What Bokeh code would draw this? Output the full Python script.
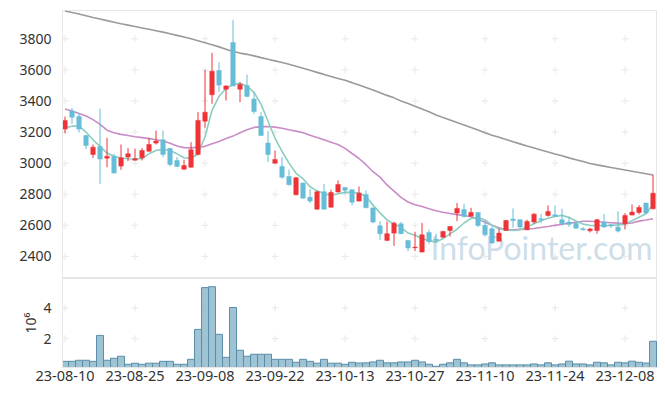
from bokeh.plotting import figure
from bokeh.models import ColumnDataSource, Range1d, FixedTicker, Label
from bokeh.layouts import column
from bokeh.embed import file_html
from bokeh.resources import INLINE

# ---------------- data ----------------
opens = [3219, 3335, 3300, 3178, 3056, 3107, 3032, 3043, 2981, 3039,
         3019, 3034, 3077, 3129, 3150, 3094, 3017, 2961, 2974, 3056,
         3270, 3440, 3596, 3476, 3776, 3476, 3500, 3412, 3300, 3129,
         3000, 2979, 2914, 2797, 2872, 2780, 2704, 2816, 2717, 2814,
         2844, 2829, 2756, 2799, 2711, 2597, 2503, 2550, 2610, 2503,
         2456, 2428, 2554, 2511, 2524, 2567, 2679, 2702, 2659, 2683,
         2599, 2578, 2498, 2567, 2640, 2636, 2571, 2621, 2642, 2664,
         2668, 2636, 2621, 2614, 2578, 2565, 2567, 2621, 2604, 2589,
         2610, 2666, 2683, 2743, 2706]
highs = [3300, 3356, 3322, 3182, 3120, 3350, 3163, 3060, 3120, 3097,
         3093, 3097, 3163, 3210, 3210, 3097, 3039, 3022, 3135, 3328,
         3600, 3710, 3650, 3500, 3922, 3521, 3570, 3457, 3328, 3206,
         3082, 3039, 2957, 2910, 2875, 2833, 2820, 2867, 2829, 2889,
         2846, 2831, 2850, 2825, 2717, 2627, 2625, 2623, 2623, 2505,
         2559, 2616, 2571, 2546, 2565, 2595, 2743, 2739, 2713, 2685,
         2631, 2593, 2580, 2636, 2709, 2638, 2636, 2679, 2674, 2728,
         2728, 2706, 2657, 2621, 2589, 2584, 2642, 2674, 2610, 2689,
         2679, 2734, 2730, 2745, 2925]
lows = [3193, 3253, 3197, 3090, 3034, 2867, 2974, 2934, 2957, 3013,
        3017, 3017, 3073, 3120, 3039, 2979, 2974, 2958, 2972, 3050,
        3227, 3382, 3459, 3403, 3495, 3392, 3425, 3317, 3176, 3007,
        2998, 2899, 2857, 2792, 2773, 2743, 2702, 2702, 2715, 2812,
        2803, 2728, 2754, 2711, 2614, 2507, 2501, 2467, 2544, 2434,
        2434, 2426, 2481, 2486, 2520, 2528, 2627, 2649, 2657, 2589,
        2528, 2481, 2496, 2565, 2584, 2580, 2569, 2610, 2614, 2657,
        2653, 2599, 2589, 2578, 2567, 2554, 2546, 2584, 2584, 2554,
        2574, 2664, 2670, 2674, 2704]
closes = [3275, 3296, 3219, 3114, 3103, 3026, 3045, 2936, 3034, 3060,
          3028, 3082, 3120, 3142, 3056, 2992, 2979, 2985, 3086, 3275,
          3328, 3592, 3502, 3497, 3497, 3506, 3429, 3332, 3178, 3056,
          3024, 2910, 2861, 2906, 2775, 2756, 2816, 2704, 2811, 2863,
          2825, 2749, 2807, 2713, 2621, 2546, 2546, 2614, 2546, 2454,
          2460, 2539, 2496, 2503, 2561, 2593, 2709, 2657, 2683, 2599,
          2539, 2486, 2550, 2631, 2631, 2589, 2625, 2672, 2636, 2689,
          2659, 2610, 2606, 2582, 2571, 2576, 2636, 2589, 2597, 2563,
          2664, 2685, 2715, 2679, 2807]
ma5 = [3228, 3238, 3238, 3200, 3150, 3108, 3065, 3045, 3033, 3028,
       3027, 3030, 3060, 3082, 3088, 3082, 3060, 3035, 3030, 3062,
       3170, 3340, 3430, 3480, 3505, 3514, 3495, 3455, 3380, 3270,
       3160, 3075, 3000, 2935, 2900, 2848, 2822, 2805, 2792, 2803,
       2812, 2813, 2808, 2785, 2730, 2680, 2635, 2608, 2587, 2550,
       2536, 2515, 2500, 2492, 2515, 2545, 2575, 2615, 2645, 2650,
       2635, 2600, 2578, 2570, 2567, 2572, 2590, 2610, 2630, 2645,
       2657, 2664, 2650, 2628, 2608, 2600, 2598, 2598, 2599, 2603,
       2608, 2630, 2652, 2675, 2735]
ma20 = [3348, 3335, 3320, 3303, 3280, 3250, 3212, 3195, 3185, 3178,
        3170, 3164, 3158, 3150, 3142, 3128, 3110, 3100, 3098, 3102,
        3108, 3125, 3140, 3158, 3174, 3195, 3215, 3230, 3235, 3236,
        3232, 3225, 3215, 3206, 3195, 3180, 3165, 3150, 3135, 3120,
        3095, 3062, 3030, 2990, 2945, 2910, 2860, 2820, 2780, 2750,
        2733, 2721, 2707, 2694, 2684, 2676, 2669, 2663, 2655, 2640,
        2620, 2600, 2585, 2572, 2572, 2574, 2576, 2580, 2586, 2592,
        2600, 2607, 2614, 2620, 2626, 2626, 2623, 2620, 2617, 2614,
        2610, 2615, 2627, 2634, 2642]
ma120 = [3979, 3969, 3959, 3948, 3937, 3927, 3917, 3907, 3897, 3888,
         3879, 3870, 3861, 3852, 3843, 3833, 3822, 3811, 3800, 3788,
         3775, 3762, 3748, 3733, 3718, 3708, 3700, 3690, 3679, 3669,
         3658, 3647, 3636, 3623, 3610, 3597, 3584, 3571, 3557, 3545,
         3533, 3518, 3502, 3486, 3470, 3453, 3436, 3420, 3400, 3384,
         3366, 3348, 3330, 3310, 3293, 3277, 3261, 3245, 3229, 3213,
         3195, 3180, 3166, 3152, 3138, 3124, 3110, 3097, 3084, 3072,
         3059, 3047, 3034, 3022, 3010, 2998, 2989, 2981, 2972, 2964,
         2956, 2948, 2940, 2932, 2924]
volumes = [0.53, 0.53, 0.60, 0.60, 0.53, 2.21, 0.60, 0.73, 0.86, 0.34,
           0.41, 0.34, 0.41, 0.41, 0.53, 0.53, 0.34, 0.34, 0.66, 2.60,
           5.31, 5.37, 2.28, 0.79, 4.02, 1.25, 0.86, 0.99, 0.99, 0.99,
           0.66, 0.66, 0.66, 0.47, 0.66, 0.53, 0.41, 0.66, 0.41, 0.41,
           0.34, 0.47, 0.42, 0.43, 0.49, 0.60, 0.43, 0.43, 0.49, 0.49,
           0.60, 0.49, 0.34, 0.21, 0.34, 0.43, 0.66, 0.43, 0.30, 0.30,
           0.36, 0.43, 0.30, 0.30, 0.30, 0.30, 0.30, 0.36, 0.30, 0.43,
           0.30, 0.36, 0.54, 0.36, 0.36, 0.30, 0.47, 0.43, 0.30, 0.47,
           0.43, 0.54, 0.47, 0.42, 1.83]
tick_index = [0, 10, 20, 30, 40, 50, 60, 70, 80]
tick_labels = ["23-08-10", "23-08-25", "23-09-08", "23-09-22", "23-10-13",
               "23-10-27", "23-11-10", "23-11-24", "23-12-08"]
price_ticks = [2400, 2600, 2800, 3000, 3200, 3400, 3600, 3800]
volume_ticks = [2, 4]

# ---------------- styling ----------------
UP = "#ef3337"
DOWN = "#66bdd8"
GRID = "#e8e8e8"
FRAME = "#e6e6e6"
TXT = "#333333"
FONT = "Noto Sans"

n = len(closes)
idx = list(range(n))
colors = [UP if c >= o else DOWN for o, c in zip(opens, closes)]
src = ColumnDataSource(dict(
    x=idx, open=opens, high=highs, low=lows, close=closes,
    top=[max(o, c) for o, c in zip(opens, closes)],
    bottom=[min(o, c) for o, c in zip(opens, closes)],
    color=colors, ma5=ma5, ma20=ma20, ma120=ma120, vol=volumes,
))

xr = Range1d(-0.36, 84.64)

p1 = figure(width=657, height=278, x_range=xr, y_range=Range1d(2258, 3982),
            output_backend="svg", toolbar_location=None,
            min_border_left=62, min_border_right=0, min_border_top=10,
            min_border_bottom=0)
p2 = figure(width=657, height=110, x_range=xr, y_range=Range1d(0.13, 5.9),
            output_backend="svg", toolbar_location=None,
            min_border_left=62, min_border_right=0, min_border_top=0,
            min_border_bottom=21)

for p in (p1, p2):
    p.grid.visible = False
    p.outline_line_color = FRAME
    p.background_fill_color = "white"
    p.border_fill_color = "white"
    for ax in p.yaxis:
        ax.axis_line_color = FRAME
        ax.major_tick_line_color = None
        ax.minor_tick_line_color = None
        ax.major_label_text_font = FONT
        ax.major_label_text_font_size = "14px"
        ax.major_label_text_color = TXT
        ax.major_label_standoff = 5

# grid crosses at tick intersections
gx1 = [x for x in tick_index for _ in price_ticks]
gy1 = [y for _ in tick_index for y in price_ticks]
p1.scatter(gx1, gy1, marker="cross", size=7, line_color=GRID, line_width=1)
gx2 = [x for x in tick_index for _ in volume_ticks]
gy2 = [y for _ in tick_index for y in volume_ticks]
p2.scatter(gx2, gy2, marker="cross", size=7, line_color=GRID, line_width=1)

# watermark
wm = Label(x=52.2, y=2330, text="InfoPointer.com", text_font="Lato",
           text_font_size="32px", text_color="#c4d8e4", text_alpha=0.85,
           level="underlay")
p1.add_layout(wm)

# price panel
p1.xaxis.visible = False
p1.yaxis.ticker = FixedTicker(ticks=price_ticks)
p1.line("x", "ma120", source=src, line_color="#9a9a9a", line_width=1.6)
p1.line("x", "ma20", source=src, line_color="#c98cc6", line_width=1.6)
p1.line("x", "ma5", source=src, line_color="#8dcdc0", line_width=1.6)
p1.segment(x0="x", y0="low", x1="x", y1="high", source=src,
           line_color="color", line_width=1)
p1.vbar(x="x", top="top", bottom="bottom", width=0.64, source=src,
        fill_color="color", line_color="color", line_width=0.5)

# volume panel
p2.vbar(x="x", top="vol", bottom=0, width=1.0, source=src,
        fill_color="#8db8cb", fill_alpha=0.85, line_color="#5a8ea8",
        line_width=1)
p2.yaxis.ticker = FixedTicker(ticks=volume_ticks)
p2.yaxis.axis_label = "10\u2076"
p2.yaxis.axis_label_text_font = FONT
p2.yaxis.axis_label_text_font_size = "14px"
p2.yaxis.axis_label_text_font_style = "normal"
p2.yaxis.axis_label_text_color = TXT
p2.yaxis.axis_label_standoff = 0
p2.xaxis.ticker = FixedTicker(ticks=tick_index)
p2.xaxis.major_label_overrides = {i: s for i, s in zip(tick_index, tick_labels)}
p2.xaxis.axis_line_color = FRAME
p2.xaxis.major_tick_line_color = None
p2.xaxis.minor_tick_line_color = None
p2.xaxis.major_tick_out = 0
p2.xaxis.major_label_standoff = 3
p2.xaxis.major_label_text_font = FONT
p2.xaxis.major_label_text_font_size = "14.5px"
p2.xaxis.major_label_text_color = TXT

layout = column(p1, p2, spacing=0)
open("out.html", "w").write(file_html(layout, INLINE))
